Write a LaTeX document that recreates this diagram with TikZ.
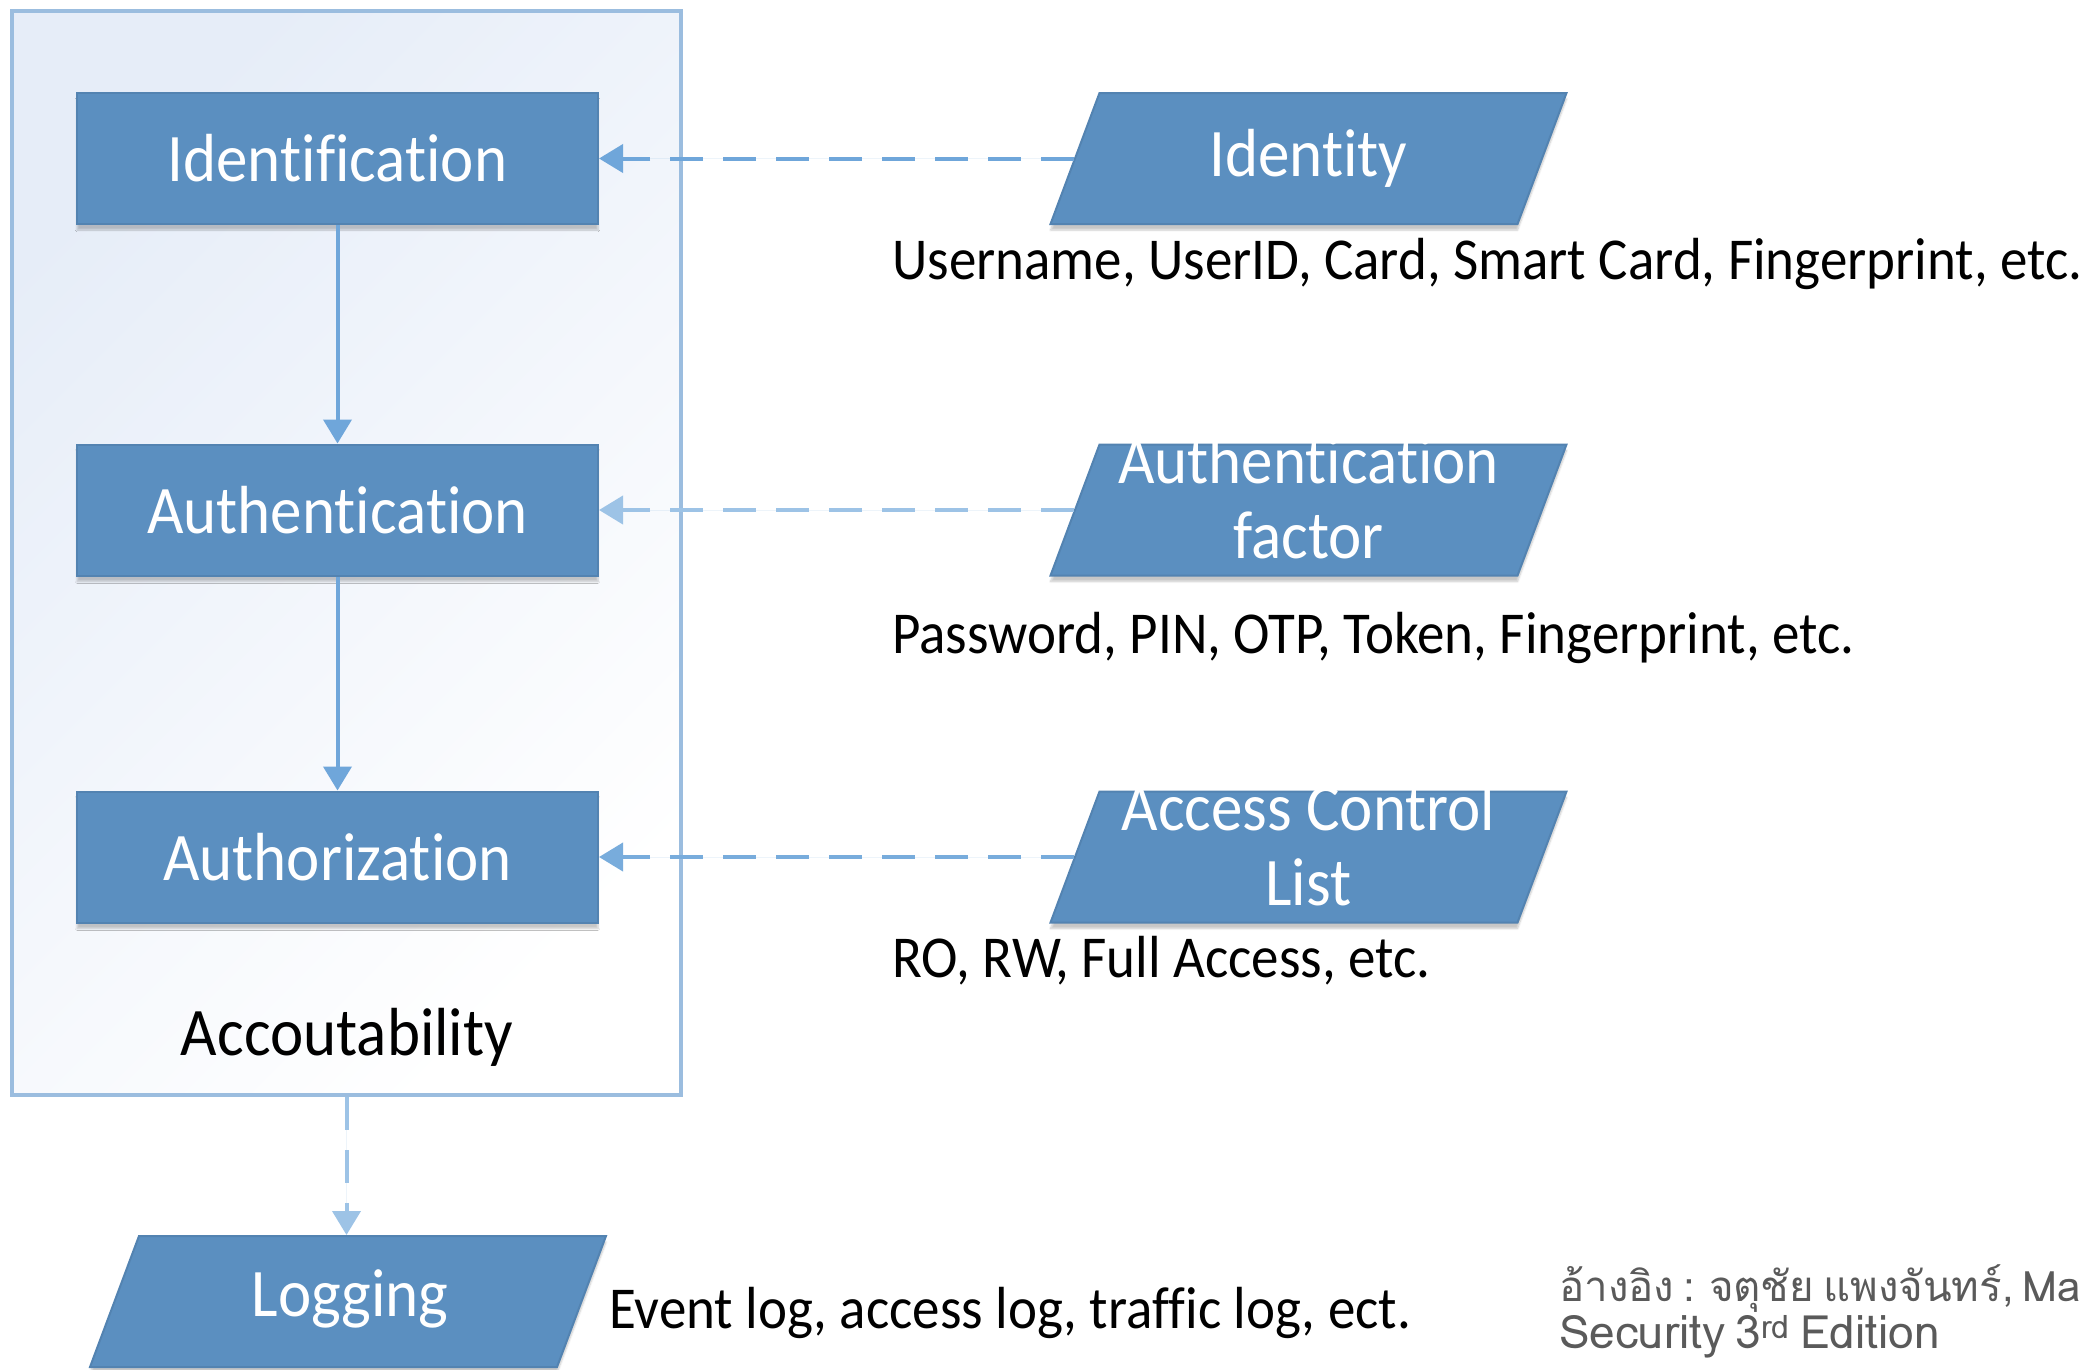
\documentclass[tikz,border=0pt]{standalone}
\usepackage{fontspec}
\usepackage{graphicx}
\setmainfont{Carlito}[Ligatures=NoCommon]
\newfontfamily\thaifont[Script=Thai,WordSpace=0.65]{Loma}
\usetikzlibrary{arrows.meta,shadows.blur}

\definecolor{boxblue}{HTML}{5B8FC0}
\definecolor{boxedge}{HTML}{5383B1}
\definecolor{linkblue}{HTML}{6FA6DA}
\definecolor{linklight}{HTML}{9DC3E6}
\definecolor{frameblue}{HTML}{9BBDDF}
\definecolor{tintblue}{HTML}{E6EDF8}
\definecolor{refgray}{HTML}{5A5A5A}

% slightly tall lettering
\newcommand{\tall}[1]{\scalebox{1}[1.08]{#1}}

\tikzset{
  boxshadow/.style={blur shadow={shadow xshift=0pt, shadow yshift=-6pt,
      shadow blur steps=6, shadow opacity=22}},
  proc/.style={rectangle, fill=boxblue, draw=boxedge, line width=2pt,
      minimum width=521pt, minimum height=131pt, inner sep=0pt,
      text=white, font=\fontsize{63}{69}\selectfont, boxshadow},
  dataio/.style={rectangle, xslant=0.374, fill=boxblue, draw=boxedge,
      line width=2pt, minimum width=467pt, minimum height=131pt,
      inner sep=0pt, boxshadow},
  iotext/.style={text=white, font=\fontsize{63}{69}\selectfont, inner sep=0pt},
  note/.style={anchor=west, inner sep=0pt, font=\fontsize{55}{60}\selectfont},
  refnote/.style={anchor=base west, inner sep=0pt, text=refgray},
  flow/.style={draw=linkblue, line width=4pt,
      -{Triangle[length=24pt,width=28pt]}},
  feed/.style={line width=4pt, dash pattern=on 33pt off 20pt,
      -{Triangle[length=24pt,width=28pt]}},
}

\begin{document}
\begin{tikzpicture}[x=1pt,y=-1pt]
\useasboundingbox (0,0) rectangle (2093,1369);

% accountability frame
\node[rectangle, draw=frameblue, line width=4pt, top color=tintblue,
      bottom color=white, shading angle=45,
      minimum width=669pt, minimum height=1084pt, inner sep=0pt]
      (acct) at (346.5,553) {};
\node[inner sep=0pt, font=\fontsize{63}{69}\selectfont] (accttext) at (347,1037)
      {\tall{Accoutability}};

% process steps
\node[proc] (ident) at (337.5,158.5) {\tall{Identification}};
\node[proc] (authn) at (337.5,510) {\tall{Authentication}};
\node[proc] (authz) at (337.5,857) {\tall{Authorization}};

% inputs (slanted data boxes, labels set upright on top)
\node[dataio] (identity) at (1308.5,158.5) {};
\node[iotext] (identitytext) at (identity.center) {\tall{Identity}};
\node[dataio] (factor) at (1308.5,510) {};
\node[iotext] (factortext) at (1308.5,506)
      {\tall{\begin{tabular}{@{}c@{}}Authentication\\factor\end{tabular}}};
\node[dataio] (acl) at (1308.5,857) {};
\node[iotext] (acltext) at (1308.5,853)
      {\tall{\begin{tabular}{@{}c@{}}Access Control\\List\end{tabular}}};

% output
\node[dataio] (logging) at (348,1301.5) {};
\node[iotext] (loggingtext) at (350,1299) {\tall{Logging}};

% examples
\node[note] (identnote) at (892,264)
      {\tall{Username, UserID, Card, Smart Card, Fingerprint, etc.}};
\node[note] (factornote) at (892,638)
      {\tall{Password, PIN, OTP, Token, Fingerprint, etc.}};
\node[note] (aclnote) at (892,961)
      {\tall{RO, RW, Full Access, etc.}};
\node[note] (lognote) at (609,1313)
      {\tall{Event log, access log, traffic log, ect.}};

% reference
\node[refnote, font=\thaifont\fontsize{42}{48}\selectfont] (cite1) at (1559,1301)
      {อ้างอิง : จตุชัย แพงจันทร์, Ma};
\node[refnote, font=\thaifont\fontsize{46}{52}\selectfont] (cite2) at (1559,1348)
      {Security 3\textsuperscript{rd} Edition};

% connectors
\draw[flow] (ident.south) -- (authn.north);
\draw[flow] (authn.south) -- (authz.north);
\draw[feed, draw=linkblue, fill=linkblue] (identity.west) -- (ident.east);
\draw[feed, draw=linklight, fill=linkblue] (factor.west) -- (authn.east);
\draw[feed, draw=linkblue!80!linklight, fill=linkblue] (acl.west) -- (authz.east);
\draw[feed, draw=linklight, fill=linkblue] (acct.south) -- (acct.south |- logging.north);
\end{tikzpicture}
\end{document}
